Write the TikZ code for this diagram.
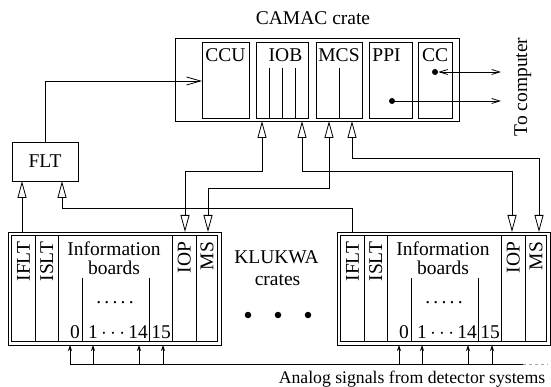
\documentclass[tikz,border=0pt]{standalone}
\usepackage{fontspec}
\setmainfont{Liberation Serif}
\usetikzlibrary{arrows.meta}
\begin{document}
\begin{tikzpicture}[x=1pt,y=-1pt, line width=0.8pt,
  box/.style={draw, inner sep=0pt, outer sep=0pt},
  lbl/.style={font=\fontsize{19.5}{21}\selectfont, inner sep=0pt, outer sep=0pt},
  tri/.style={-{Triangle[open,length=17pt,width=9pt]}},
  tritri/.style={{Triangle[open,length=17pt,width=9pt]}-{Triangle[open,length=17pt,width=9pt]}},
  barb/.style={-{Straight Barb[length=14pt,width=8pt]}},
  sbarb/.style={-{Straight Barb[length=8pt,width=5pt]}},
  dbarb/.style={{Straight Barb[length=8pt,width=5pt]}-{Straight Barb[length=8pt,width=5pt]}},
  sig/.style={-{Stealth[length=6pt,width=4pt]}},
  dotnode/.style={circle, fill, inner sep=0pt, minimum size=6pt}]
\useasboundingbox (0,0) rectangle (551,387);

% CAMAC crate
\node[lbl, anchor=base] (title) at (313,25) {CAMAC crate};
\node[box, minimum width=284pt, minimum height=83pt] (camac) at (317,79.5) {};
\node[box, minimum width=47pt, minimum height=76pt] (ccu) at (225.5,80) {};
\node[box, minimum width=52pt, minimum height=76pt] (iob) at (282,80) {};
\node[box, minimum width=46pt, minimum height=76pt] (mcs) at (339,80) {};
\node[box, minimum width=43pt, minimum height=76pt] (ppi) at (390.5,80) {};
\node[box, minimum width=34pt, minimum height=76pt] (cc) at (435,80) {};
\node[lbl, anchor=base] (ccul) at (225.5,62) {CCU};
\node[lbl, anchor=base] (iobl) at (285.5,62) {IOB};
\node[lbl, anchor=base] (mcsl) at (339,62) {MCS};
\node[lbl, anchor=base] (ppil) at (386.5,62) {PPI};
\node[lbl, anchor=base] (ccl) at (435,62) {CC};
\foreach \x in {269,282,295} \draw (\x,68) -- (\x,118);
\draw (339,68) -- (339,118);

% to computer
\node[dotnode] (ppidot) at (392,101) {};
\node[dotnode] (ccdot) at (435,72) {};
\coordinate (out1) at (501,72);
\coordinate (out2) at (501,101);
\draw[dbarb] (ccdot.east) -- (out1);
\draw[sbarb] (ppidot.center) -- (out2);
\node[lbl, rotate=90, anchor=base] (tocomp) at (527,87) {To computer};

% FLT
\node[box, lbl, minimum width=66pt, minimum height=39pt] (flt) at (45,161.5) {FLT};

% KLUKWA crates
\foreach \L/\n in {8/l,337/r}{
  \node[box, minimum width=213pt, minimum height=113pt] (crate\n) at ({\L+106.5},288.5) {};
  \node[box, minimum width=206pt, minimum height=106pt] (inner\n) at ({\L+106.5},288.5) {};
  \foreach \dx in {27,50,164,188} \draw ({\L+\dx},235.5) -- ({\L+\dx},341.5);
  \node[lbl, rotate=90, anchor=base east] (iflt\n) at ({\L+21.75},242) {IFLT};
  \node[lbl, rotate=90, anchor=base east] (islt\n) at ({\L+45},242) {ISLT};
  \node[lbl, rotate=90, anchor=base east] (iop\n) at ({\L+182.5},242) {IOP};
  \node[lbl, rotate=90, anchor=base east] (ms\n) at ({\L+205.25},242) {MS};
  \node[lbl, anchor=base] (info\n) at ({\L+106},255.5) {Information};
  \node[lbl, anchor=base] (boards\n) at ({\L+106},274) {boards};
  \draw ({\L+74},278) -- ({\L+74},341.5);
  \draw ({\L+141},278) -- ({\L+141},341.5);
  \node[lbl, anchor=base] (dots\n) at ({\L+107},303.5) {.\,.\,.\,.\,.};
  \node[lbl, anchor=base] (zero\n) at ({\L+67},338) {0};
  \node[lbl, anchor=base] (mid\n) at ({\L+110},338) {1\,$\cdots$\,14};
  \node[lbl, anchor=base] (fift\n) at ({\L+153},338) {15};
  \foreach \dx in {62,85,131,155} \draw[sig] ({\L+\dx},364) -- ({\L+\dx},345);
}

% signal bus
\draw (70,364) -- (523,364);
\draw[gray!70, dashed, line width=0.5pt] (523,364) -- (548,364);
\node[font=\fontsize{17.7}{19}\selectfont, inner sep=0pt, anchor=base] (analog) at (412,383) {Analog signals from detector systems};

% KLUKWA label and dots
\node[lbl, anchor=base] (klukwa) at (276.5,263) {KLUKWA};
\node[lbl, anchor=base] (crates) at (277.5,285) {crates};
\foreach \x/\i in {248/1,278/2,308/3} \node[circle, fill, inner sep=0pt, minimum size=6.5pt] (dot\i) at (\x,315) {};

% connections CAMAC <-> KLUKWA
\draw[tritri] (262,121) -- (262,171) -- (185,171) -- (185,232);
\draw[tritri] (329,121) -- (329,188) -- (208,188) -- (208,232);
\draw[tritri] (302,121) -- (302,171) -- (512,171) -- (512,232);
\draw[tritri] (352,121) -- (352,158) -- (539,158) -- (539,232);

% FLT connections
\draw[tri] (22,232) -- (22,181);
\draw[tri] (352,232) -- (352,208) -- (62,208) -- (62,181);
\draw[barb] (45,142) -- (45,81) -- (202,81);
\end{tikzpicture}
\end{document}
